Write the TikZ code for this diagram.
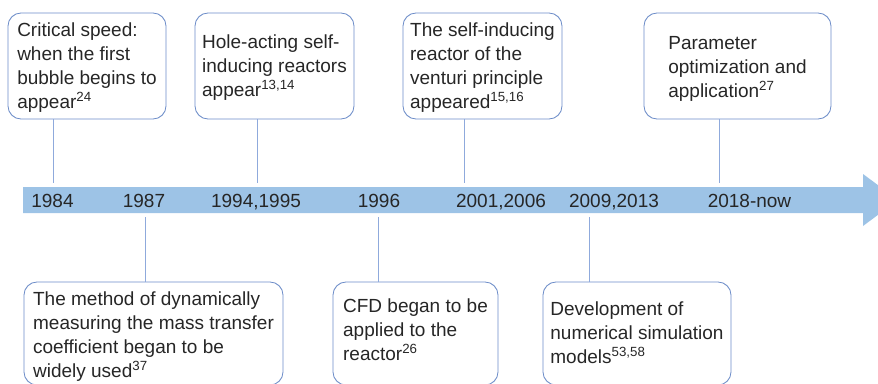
\documentclass[tikz,border=0pt]{standalone}
\usepackage{fontspec}
\setmainfont{Liberation Sans}
\definecolor{bandblue}{RGB}{157,195,230}
\definecolor{boxline}{RGB}{108,140,200}
\definecolor{linkline}{RGB}{143,170,220}
\definecolor{ink}{RGB}{38,38,38}
\begin{document}
\begin{tikzpicture}[x=1pt,y=-1pt,
  % text height fixes where the last baseline sits inside each frame
  event/.style={draw=boxline, line width=0.85pt, rounded corners=13pt,
    align=left, inner sep=0pt, text=ink, text depth=0pt,
    font=\fontsize{19}{23.8}\selectfont},
  year/.style={anchor=base, inner sep=0pt, text=ink,
    font=\fontsize{19}{23.8}\selectfont},
  link/.style={draw=linkline, line width=0.9pt}]
\useasboundingbox (0,0) rectangle (878,383);
\clip (0,0) rectangle (878,383);

% timeline arrow
\fill[bandblue] (23,187) -- (863,187) -- (863,174) -- (898,200)
  -- (863,226) -- (863,213) -- (23,213) -- cycle;

% years along the band
\node[year] (y84) at (52.5,207) {1984};
\node[year] (y87) at (144,207) {1987};
\node[year] (y94) at (256,207) {1994,1995};
\node[year] (y96) at (379,207) {1996};
\node[year] (y01) at (501,207) {2001,2006};
\node[year] (y09) at (614,207) {2009,2013};
\node[year] (y18) at (749.5,207) {2018-now};

% tick ends next to the band
\coordinate (t84) at (53,183);
\coordinate (t94) at (257,183);
\coordinate (t01) at (464,183);
\coordinate (t18) at (719,183);
\coordinate (t87) at (145,217);
\coordinate (t96) at (378,217);
\coordinate (t09) at (589,217);

% events above the band
\node[event, text height=84pt, minimum width=158, minimum height=106] (e84) at (87,66)
  {Critical speed:\\when the first\\bubble begins to\\appear\textsuperscript{24}};
\node[event, text height=60pt, minimum width=159, minimum height=106] (e94) at (274.5,66)
  {Hole-acting self-\\inducing reactors\\appear\textsuperscript{13,14}};
\node[event, text height=84pt, minimum width=159, minimum height=106] (e01) at (482.5,66)
  {The self-inducing\\reactor of the\\venturi principle\\appeared\textsuperscript{15,16}};
\node[event, text height=62pt, minimum width=187, minimum height=106] (e18) at (737.5,66)
  {Parameter\\optimization and\\application\textsuperscript{27}};

% events below the band
\node[event, text height=87pt, minimum width=259, minimum height=103] (e87) at (153.5,333.5)
  {The method of dynamically\\measuring the mass transfer\\coefficient began to be\\widely used\textsuperscript{37}};
\node[event, text height=53pt, minimum width=165, minimum height=103] (e96) at (415.5,333.5)
  {CFD began to be\\applied to the\\reactor\textsuperscript{26}};
\node[event, text height=59pt, minimum width=188, minimum height=103] (e09) at (637,333.5)
  {Development of\\numerical simulation\\models\textsuperscript{53,58}};

% connectors
\draw[link] (e84.south -| t84) -- (t84);
\draw[link] (e94.south -| t94) -- (t94);
\draw[link] (e01.south -| t01) -- (t01);
\draw[link] (e18.south -| t18) -- (t18);
\draw[link] (t87) -- (e87.north -| t87);
\draw[link] (t96) -- (e96.north -| t96);
\draw[link] (t09) -- (e09.north -| t09);
\end{tikzpicture}
\end{document}
